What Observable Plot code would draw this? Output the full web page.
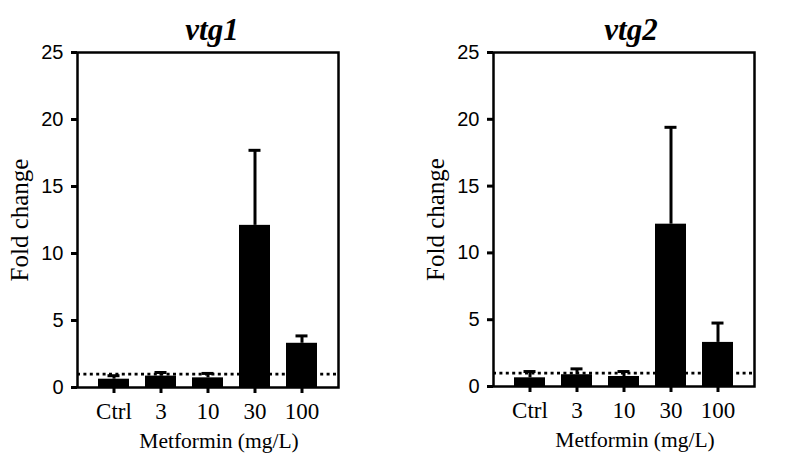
<!DOCTYPE html>
<html>
<head>
<meta charset="utf-8">
<script src="https://cdn.jsdelivr.net/npm/d3@7"></script>
<script src="https://cdn.jsdelivr.net/npm/@observablehq/plot@0.6"></script>
<style>
  html, body { margin: 0; padding: 0; background: #fff; }
  #wrap { display: flex; width: 785px; height: 455px; }
</style>
</head>
<body>
<div id="wrap"></div>
<script>
const categories = ["Ctrl", "3", "10", "30", "100"];
const vtg1Mean = [0.62, 0.85, 0.72, 12.1, 3.3];
const vtg1Err  = [0.88, 1.12, 1.05, 17.7, 3.85];
const vtg2Mean = [0.65, 0.88, 0.75, 12.15, 3.3];
const vtg2Err  = [1.12, 1.32, 1.12, 19.4, 4.75];
const yTicks = [0, 5, 10, 15, 20, 25];
const titles = ["vtg1", "vtg2"];
const yLabel = "Fold change";
const xLabel = "Metformin (mg/L)";

const serif = "'Liberation Serif', 'Times New Roman', serif";
const sans = "'Liberation Sans', Arial, sans-serif";

function panel(title, means, errs, opts) {
  const data = categories.map((c, i) => ({cat: c, mean: means[i], err: errs[i]}));
  return Plot.plot({
    width: opts.width,
    height: 455,
    marginLeft: opts.marginLeft,
    marginRight: opts.marginRight,
    marginTop: opts.marginTop,
    marginBottom: opts.marginBottom,
    style: {fontFamily: serif, fontSize: "23px", color: "black", background: "white", overflow: "visible"},
    x: {domain: categories, paddingInner: 0.35, paddingOuter: 0.42, label: null},
    y: {domain: [0, 25], label: null},
    marks: [
      Plot.barY(data, {x: "cat", y: "mean", fill: "black"}),
      Plot.ruleX(data, {x: "cat", y1: "mean", y2: "err", stroke: "black", strokeWidth: 3}),
      Plot.tickY(data, {x: "cat", y: "err", stroke: "black", strokeWidth: 3, insetLeft: 9.5, insetRight: 9.5}),
      Plot.ruleY([1], {stroke: "black", strokeWidth: 2.7, strokeDasharray: "3,3.4"}),
      Plot.frame({stroke: "black", strokeWidth: 2.5}),
      Plot.axisY({ticks: yTicks, tickSize: 6, text: null, strokeWidth: 3, label: null}),
      Plot.text(yTicks, {y: d => d, text: d => String(d), frameAnchor: "left", dx: -14, textAnchor: "end", lineAnchor: "middle", fontSize: 20, fontFamily: sans}),
      Plot.axisX({tickSize: 6, tickPadding: 9, strokeWidth: 3, fontSize: 23, fontFamily: serif, label: null}),
      Plot.text([yLabel], {frameAnchor: "left", dx: -58, rotate: -90, textAnchor: "middle", lineAnchor: "middle", fontSize: 25, fontFamily: serif}),
      Plot.text([xLabel], {frameAnchor: "bottom", dx: 11, dy: 60, textAnchor: "middle", lineAnchor: "bottom", fontSize: 21.5, fontFamily: serif}),
      Plot.text([title], {frameAnchor: "top", dx: opts.titleDx, dy: -13, textAnchor: "middle", lineAnchor: "bottom", fontSize: 31, fontWeight: "bold", fontStyle: "italic", fontFamily: serif})
    ]
  });
}

const wrap = document.getElementById("wrap");
wrap.appendChild(panel(titles[0], vtg1Mean, vtg1Err, {width: 392, marginLeft: 77, marginRight: 54, marginTop: 52, marginBottom: 68, titleDx: 4}));
wrap.appendChild(panel(titles[1], vtg2Mean, vtg2Err, {width: 393, marginLeft: 101, marginRight: 31, marginTop: 52, marginBottom: 69, titleDx: 7}));
</script>
</body>
</html>
